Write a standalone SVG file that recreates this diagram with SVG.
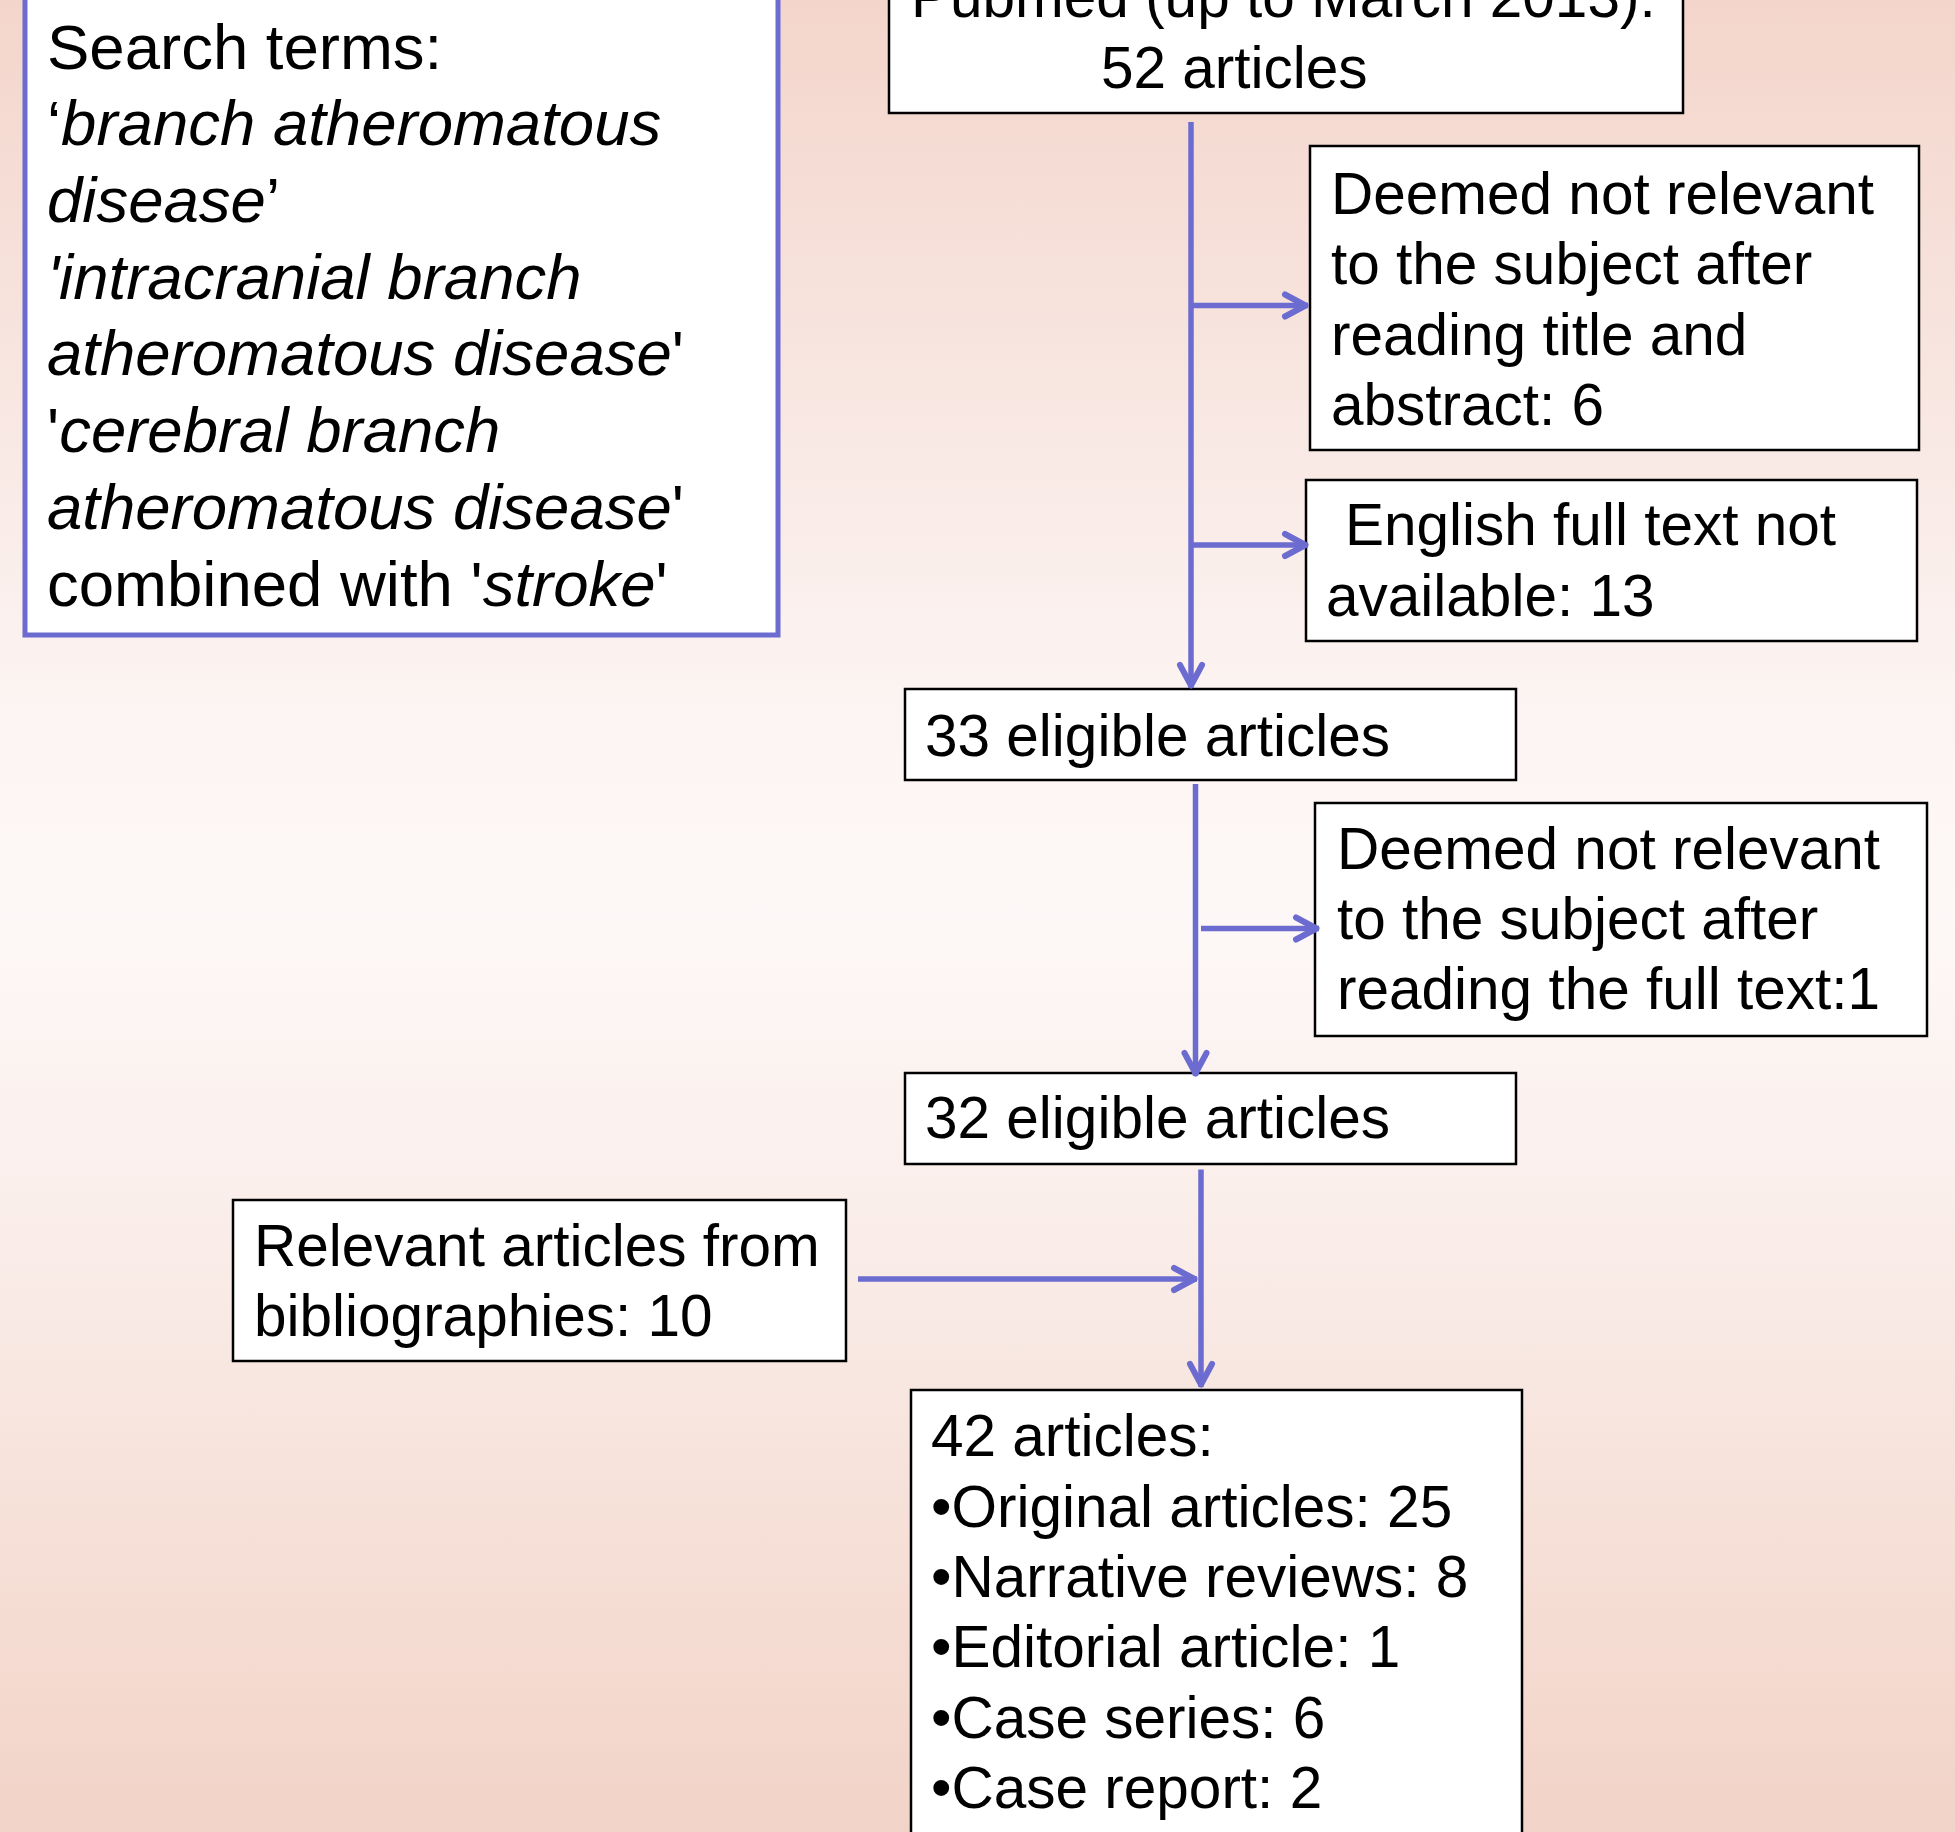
<svg xmlns="http://www.w3.org/2000/svg" width="1955" height="1832" viewBox="0 0 1955 1832">
<defs>
<linearGradient id="bg" x1="0" y1="0" x2="0" y2="1">
<stop offset="0" stop-color="#f3d5cb"/>
<stop offset="0.38" stop-color="#fcf4f2"/>
<stop offset="0.5" stop-color="#fdf8f7"/>
<stop offset="0.62" stop-color="#fbf1ee"/>
<stop offset="1" stop-color="#f2d3c7"/>
</linearGradient>
<marker id="ah" markerUnits="userSpaceOnUse" viewBox="-30 -15 35 30" refX="0" refY="0" markerWidth="35" markerHeight="30" orient="auto" overflow="visible">
<path d="M-23,-11 L-2.5,0 L-23,11" fill="none" stroke="#6b6bd0" stroke-width="6" stroke-linecap="round" stroke-linejoin="round"/>
</marker>
</defs>
<style>
.box{fill:#ffffff;stroke:#000000;stroke-width:2.5}
.pbox{fill:#ffffff;stroke:#6b6bd0;stroke-width:5}
.t{font-family:"Liberation Sans",Arial,sans-serif;font-size:58.5px;fill:#000000}
.tl{font-family:"Liberation Sans",Arial,sans-serif;font-size:63.5px;fill:#000000}
.i{font-style:italic}
.c{fill:none;stroke:#6b6bd0;stroke-width:5.5;marker-end:url(#ah)}
</style>
<rect x="0" y="0" width="1955" height="1832" fill="url(#bg)"/>

<g id="search-terms">
<rect class="pbox" x="25" y="-20" width="753" height="655"/>
<text class="tl" x="47" y="68.6">Search terms:</text>
<text class="tl" x="47" y="145.3">‘<tspan class="i">branch atheromatous</tspan></text>
<text class="tl" x="47" y="222"><tspan class="i">disease</tspan>’</text>
<text class="tl i" x="47" y="298.7">'intracranial branch</text>
<text class="tl" x="47" y="375.4"><tspan class="i">atheromatous disease</tspan>'</text>
<text class="tl" x="47" y="452.1">'<tspan class="i">cerebral branch</tspan></text>
<text class="tl" x="47" y="528.8"><tspan class="i">atheromatous disease</tspan>'</text>
<text class="tl" x="47" y="605.5">combined with '<tspan class="i">stroke</tspan>'</text>
</g>

<g id="pubmed">
<rect class="box" x="889" y="-20" width="794" height="133"/>
<text class="t" x="911" y="17">Pubmed (up to March 2013):</text>
<text class="t" x="1101" y="88">52 articles</text>
</g>

<g id="excluded-title-abstract">
<rect class="box" x="1310" y="146" width="609" height="304"/>
<text class="t" x="1331" y="213.5">Deemed not relevant</text>
<text class="t" x="1331" y="284">to the subject after</text>
<text class="t" x="1331" y="354.5">reading title and</text>
<text class="t" x="1331" y="425">abstract: 6</text>
</g>

<g id="excluded-language">
<rect class="box" x="1306" y="480" width="611" height="161"/>
<text class="t" x="1345" y="545">English full text not</text>
<text class="t" x="1326" y="615.5">available: 13</text>
</g>

<g id="eligible-33">
<rect class="box" x="905" y="689" width="611" height="91"/>
<text class="t" x="925" y="756">33 eligible articles</text>
</g>

<g id="excluded-full-text">
<rect class="box" x="1315" y="803" width="612" height="233"/>
<text class="t" x="1337" y="868.5">Deemed not relevant</text>
<text class="t" x="1337" y="938.5">to the subject after</text>
<text class="t" x="1337" y="1009">reading the full text:1</text>
</g>

<g id="eligible-32">
<rect class="box" x="905" y="1073" width="611" height="91"/>
<text class="t" x="925" y="1138">32 eligible articles</text>
</g>

<g id="bibliographies">
<rect class="box" x="233" y="1200" width="613" height="161"/>
<text class="t" x="254" y="1266">Relevant articles from</text>
<text class="t" x="254" y="1336">bibliographies: 10</text>
</g>

<g id="final-42">
<rect class="box" x="911" y="1390" width="611" height="470"/>
<text class="t" x="931" y="1456">42 articles:</text>
<text class="t" x="931" y="1527">•Original articles: 25</text>
<text class="t" x="931" y="1597">•Narrative reviews: 8</text>
<text class="t" x="931" y="1667">•Editorial article: 1</text>
<text class="t" x="931" y="1738">•Case series: 6</text>
<text class="t" x="931" y="1808">•Case report: 2</text>
</g>

<g id="connectors">
<line class="c" x1="1191" y1="122" x2="1191" y2="688"/>
<line class="c" x1="1191" y1="305.5" x2="1308" y2="305.5"/>
<line class="c" x1="1191" y1="545" x2="1308" y2="545"/>
<line class="c" x1="1195.5" y1="784" x2="1195.5" y2="1076"/>
<line class="c" x1="1201" y1="928.5" x2="1319" y2="928.5"/>
<line class="c" x1="1201" y1="1169.5" x2="1201" y2="1387"/>
<line class="c" x1="858" y1="1279" x2="1197" y2="1279"/>
</g>
</svg>
